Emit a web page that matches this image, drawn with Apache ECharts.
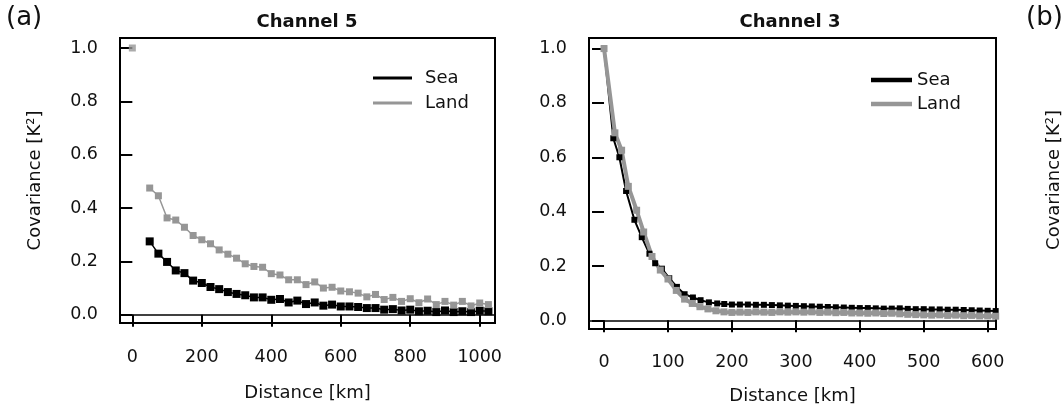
<!DOCTYPE html>
<html>
<head>
<meta charset="utf-8">
<script src="https://cdn.jsdelivr.net/npm/echarts@6/dist/echarts.min.js"></script>
<style>
html, body { margin: 0; padding: 0; background: #fff; }
#main { width: 1063px; height: 411px; }
</style>
</head>
<body>
<div id="main"></div>
<script>
// Channel 5 (panel a, left)
var ch5Dist = [50, 75, 100, 125, 150, 175, 200, 225, 250, 275, 300, 325, 350, 375, 400, 425, 450, 475, 500, 525,
    550, 575, 600, 625, 650, 675, 700, 725, 750, 775, 800, 825, 850, 875, 900, 925, 950, 975, 1000, 1025];
var ch5Sea = [0.275, 0.229, 0.198, 0.166, 0.156, 0.128, 0.119, 0.104, 0.096, 0.085,
    0.078, 0.073, 0.065, 0.065, 0.056, 0.059, 0.046, 0.053, 0.040, 0.046,
    0.034, 0.038, 0.031, 0.031, 0.029, 0.025, 0.025, 0.019, 0.021, 0.016,
    0.019, 0.013, 0.015, 0.010, 0.016, 0.010, 0.013, 0.010, 0.015, 0.013];
var ch5Land = [0.475, 0.446, 0.363, 0.355, 0.328, 0.297, 0.281, 0.266, 0.243, 0.227,
    0.212, 0.191, 0.181, 0.178, 0.154, 0.149, 0.131, 0.131, 0.113, 0.123,
    0.100, 0.103, 0.089, 0.086, 0.081, 0.067, 0.076, 0.057, 0.065, 0.050,
    0.060, 0.045, 0.059, 0.038, 0.050, 0.036, 0.050, 0.033, 0.044, 0.038];
var ch5LandLag0 = [0, 1.0];

// Channel 3 (right)
var ch3TailDist = [212.5, 225, 237.5, 250, 262.5, 275, 287.5, 300, 312.5, 325, 337.5, 350, 362.5, 375, 387.5, 400,
    412.5, 425, 437.5, 450, 462.5, 475, 487.5, 500, 512.5, 525, 537.5, 550, 562.5, 575, 587.5, 600, 612.5];
var ch3SeaDist = [0, 14.5, 24, 34.5, 47.5, 59, 71, 80, 90.5, 102, 114, 126, 139, 151, 164, 177, 188, 200].concat(ch3TailDist);
var ch3Sea = [1.0, 0.67, 0.60, 0.476, 0.37, 0.306, 0.245, 0.21, 0.19, 0.155, 0.123, 0.096, 0.084, 0.074, 0.066, 0.062, 0.060, 0.058,
    0.058, 0.058, 0.057, 0.057, 0.056, 0.055, 0.054, 0.053, 0.052, 0.051, 0.050, 0.049, 0.048, 0.047, 0.046, 0.045,
    0.045, 0.044, 0.043, 0.043, 0.044, 0.042, 0.041, 0.041, 0.040, 0.040, 0.039, 0.039, 0.038, 0.037, 0.036, 0.035, 0.034];
var ch3LandDist = [0, 17, 27.5, 38, 51, 62, 75, 88, 100, 113, 126, 138, 150, 162.5, 175, 187.5, 200].concat(ch3TailDist);
var ch3Land = [1.0, 0.69, 0.626, 0.493, 0.405, 0.325, 0.235, 0.185, 0.152, 0.110, 0.078, 0.062, 0.050, 0.042, 0.035, 0.031, 0.029,
    0.030, 0.029, 0.031, 0.030, 0.029, 0.031, 0.030, 0.031, 0.030, 0.031, 0.029, 0.030, 0.028, 0.029, 0.027, 0.027,
    0.026, 0.027, 0.025, 0.026, 0.024, 0.022, 0.021, 0.020, 0.019, 0.020, 0.018, 0.019, 0.017, 0.018, 0.016, 0.016, 0.015];

var ticksY = [0, 0.2, 0.4, 0.6, 0.8, 1.0];
var ticksX5 = [0, 200, 400, 600, 800, 1000];
var ticksX3 = [0, 100, 200, 300, 400, 500, 600];

var FONT = 'DejaVu Sans';
var GRAY = '#969696';

function pairs(xs, ys) {
    var out = [];
    for (var i = 0; i < xs.length; i++) out.push([xs[i], ys[i]]);
    return out;
}

function xAxisFor(idx, min, max, ticks, gap, margin) {
    return {
        gridIndex: idx, type: 'value', min: min, max: max,
        name: 'Distance [km]', nameLocation: 'middle', nameGap: gap,
        nameTextStyle: { fontFamily: FONT, fontSize: 18, color: '#111' },
        axisLine: { show: false },
        axisTick: { show: true, length: 12, customValues: ticks, lineStyle: { color: '#000', width: 2 } },
        axisLabel: {
            customValues: ticks, margin: margin, fontFamily: FONT, fontSize: 17.5, color: '#111',
            formatter: function (v) { return String(v); }
        },
        splitLine: { show: false }
    };
}

function yAxisFor(idx, min, max, withName) {
    var ax = {
        gridIndex: idx, type: 'value', min: min, max: max,
        axisLine: { show: false },
        axisTick: { show: true, length: 12, customValues: ticksY, lineStyle: { color: '#000', width: 2 } },
        axisLabel: {
            customValues: ticksY, margin: 22, fontFamily: FONT, fontSize: 17.5, color: '#111',
            formatter: function (v) { return v.toFixed(1); }
        },
        splitLine: { show: false }
    };
    if (withName) {
        ax.name = 'Covariance [K²]';
        ax.nameLocation = 'middle';
        ax.nameGap = 76;
        ax.nameTextStyle = { fontFamily: FONT, fontSize: 18, color: '#111' };
    }
    return ax;
}

function zeroLine() {
    return {
        silent: true, symbol: 'none', label: { show: false },
        lineStyle: { color: '#000', width: 1.5, type: 'solid' },
        data: [{ yAxis: 0 }]
    };
}

var myChart = echarts.init(document.getElementById('main'));

var option = {
    animation: false,
    backgroundColor: '#fff',
    title: [
        { text: 'Channel 5', left: 302, top: 8, textAlign: 'center',
          textStyle: { fontFamily: FONT, fontSize: 18, fontWeight: 'bold', color: '#111' } },
        { text: 'Channel 3', left: 785, top: 8, textAlign: 'center',
          textStyle: { fontFamily: FONT, fontSize: 18, fontWeight: 'bold', color: '#111' } }
    ],
    graphic: [
        { type: 'text', left: 6, top: 5, style: { text: '(a)', font: '26px "DejaVu Sans"', fill: '#111' } },
        { type: 'text', left: 1026, top: 5, style: { text: '(b)', font: '26px "DejaVu Sans"', fill: '#111' } },
        { type: 'text', x: 1063, y: 180, rotation: Math.PI / 2,
          style: { text: 'Covariance [K²]', font: '18px "DejaVu Sans"', fill: '#111', align: 'center', verticalAlign: 'bottom' } }
    ],
    legend: [
        { orient: 'vertical', left: 368, top: 63, itemWidth: 39, itemHeight: 3, itemGap: 5, icon: 'rect',
          data: ['Sea', 'Land'],
          textStyle: { fontFamily: FONT, fontSize: 18, color: '#111', lineHeight: 20, padding: [0, 0, 0, 8] } },
        { orient: 'vertical', left: 866, top: 65, itemWidth: 41, itemHeight: 4.5, itemGap: 4, icon: 'rect',
          data: ['Sea', 'Land'],
          textStyle: { fontFamily: FONT, fontSize: 18, color: '#111', lineHeight: 20, padding: [0, 0, 0, 0] } }
    ],
    grid: [
        { left: 120, top: 38, width: 375, height: 285, show: true, borderColor: '#000', borderWidth: 2, backgroundColor: 'transparent' },
        { left: 589, top: 38, width: 407, height: 291, show: true, borderColor: '#000', borderWidth: 2, backgroundColor: 'transparent' }
    ],
    xAxis: [
        xAxisFor(0, -35.5, 1044, ticksX5, 61, 25),
        xAxisFor(1, -23.5, 613, ticksX3, 58, 24)
    ],
    yAxis: [
        yAxisFor(0, -0.031, 1.0375, true),
        yAxisFor(1, -0.032, 1.039, false)
    ],
    series: [
        {
            name: 'Sea', type: 'line', xAxisIndex: 0, yAxisIndex: 0,
            data: pairs(ch5Dist, ch5Sea), symbol: 'rect', symbolSize: 8,
            itemStyle: { color: '#000' }, lineStyle: { color: '#000', width: 1.5 },
            markLine: zeroLine()
        },
        {
            name: 'Land', type: 'line', xAxisIndex: 0, yAxisIndex: 0,
            data: pairs(ch5Dist, ch5Land), symbol: 'rect', symbolSize: 7,
            itemStyle: { color: GRAY }, lineStyle: { color: GRAY, width: 1.5 }
        },
        {
            name: 'Land', type: 'scatter', xAxisIndex: 0, yAxisIndex: 0,
            data: [ch5LandLag0], symbol: 'rect', symbolSize: 7,
            itemStyle: { color: GRAY }
        },
        {
            name: 'Sea', type: 'line', xAxisIndex: 1, yAxisIndex: 1,
            data: pairs(ch3SeaDist, ch3Sea), symbol: 'rect', symbolSize: 6,
            itemStyle: { color: '#000' }, lineStyle: { color: '#000', width: 2 },
            markLine: zeroLine()
        },
        {
            name: 'Land', type: 'line', xAxisIndex: 1, yAxisIndex: 1,
            data: pairs(ch3LandDist, ch3Land), symbol: 'rect', symbolSize: 7,
            itemStyle: { color: GRAY }, lineStyle: { color: GRAY, width: 4 }
        }
    ]
};

myChart.setOption(option);
</script>
</body>
</html>
